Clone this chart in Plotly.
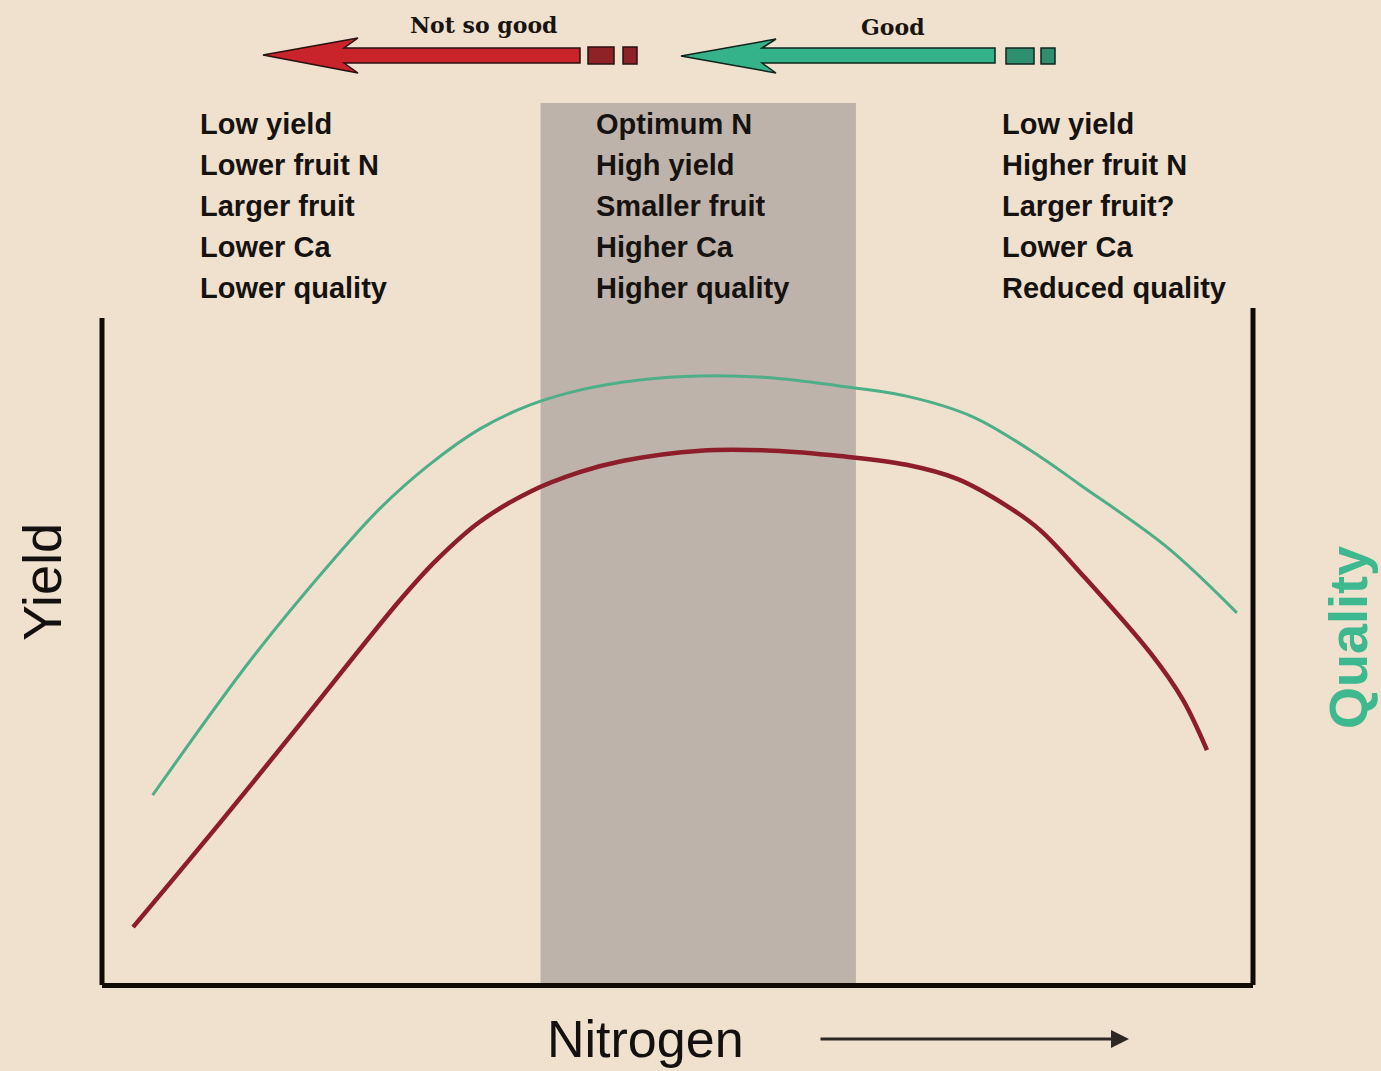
import plotly.graph_objects as go

# ---------------- data ----------------
yield_x = [2.7, 10.3, 17.5, 25.9, 29.1, 32.8, 37.2, 41.5, 45.3, 52.0, 58.3, 64.1, 69.9, 74.3, 78.6, 81.5, 85.2, 91.1, 93.9, 96.0]
yield_y = [8.3, 23.9, 39.1, 56.9, 62.9, 68.5, 73.0, 75.9, 77.6, 79.1, 79.1, 78.3, 77.0, 74.9, 70.9, 67.3, 60.6, 49.0, 42.1, 34.6]

quality_x = [4.4, 13.1, 20.1, 24.2, 28.5, 32.8, 37.2, 41.5, 46.7, 52.0, 58.3, 64.1, 69.9, 75.7, 81.5, 85.0, 92.5, 98.6]
quality_y = [27.9, 48.4, 62.9, 70.6, 77.1, 82.3, 85.9, 88.1, 89.6, 90.2, 89.9, 88.7, 87.2, 84.1, 78.2, 74.0, 64.8, 55.0]

optimum_range = [38.1, 65.5]

left_notes = ["Low yield", "Lower fruit N", "Larger fruit", "Lower Ca", "Lower quality"]
middle_notes = ["Optimum N", "High yield", "Smaller fruit", "Higher Ca", "Higher quality"]
right_notes = ["Low yield", "Higher fruit N", "Larger fruit?", "Lower Ca", "Reduced quality"]

# ---------------- layout helpers ----------------
W, H = 1381, 1071
L, R, T, B = 102, 1253, 310, 983


def px(xp):
    return (xp - L) / (R - L)


def py(yp):
    return (B - yp) / (B - T)


def path(points):
    return "M " + " L ".join(f"{px(a):.5f},{py(b):.5f}" for a, b in points) + " Z"


BG = "#EFE1CE"
RED_LINE = "#8E1D2B"
GREEN_LINE = "#4DAE88"

fig = go.Figure()

fig.add_trace(go.Scatter(x=quality_x, y=quality_y, mode="lines",
                         line=dict(color=GREEN_LINE, width=3, shape="spline", smoothing=1.0),
                         hoverinfo="skip", showlegend=False))
fig.add_trace(go.Scatter(x=yield_x, y=yield_y, mode="lines",
                         line=dict(color=RED_LINE, width=4.5, shape="spline", smoothing=1.0),
                         hoverinfo="skip", showlegend=False))

shapes = []
# optimum band
shapes.append(dict(type="rect", xref="x", yref="paper", x0=optimum_range[0], x1=optimum_range[1],
                   y0=0, y1=py(103), fillcolor="#BDB3AA", line=dict(width=0), layer="below"))
# vertical axis lines
shapes.append(dict(type="line", xref="paper", yref="paper", x0=px(102), x1=px(102), y0=py(985), y1=py(318),
                   line=dict(color="#120a05", width=5)))
shapes.append(dict(type="line", xref="paper", yref="paper", x0=px(1253), x1=px(1253), y0=py(985), y1=py(308),
                   line=dict(color="#120a05", width=5)))
# red arrow
shapes.append(dict(type="path", xref="paper", yref="paper",
                   path=path([(263, 55), (358, 38), (344, 48), (580, 48), (580, 63), (344, 63), (358, 73)]),
                   fillcolor="#C9232C", line=dict(color="#2a1010", width=1.5)))
shapes.append(dict(type="rect", xref="paper", yref="paper", x0=px(588), x1=px(614), y0=py(64), y1=py(47),
                   fillcolor="#8E2226", line=dict(color="#2a1010", width=1.5)))
shapes.append(dict(type="rect", xref="paper", yref="paper", x0=px(623), x1=px(637), y0=py(64), y1=py(47),
                   fillcolor="#8E2226", line=dict(color="#2a1010", width=1.5)))
# green arrow
shapes.append(dict(type="path", xref="paper", yref="paper",
                   path=path([(681, 56), (776, 39), (762, 48), (995, 48), (995, 63), (762, 63), (776, 73)]),
                   fillcolor="#34B38B", line=dict(color="#10241c", width=1.5)))
shapes.append(dict(type="rect", xref="paper", yref="paper", x0=px(1006), x1=px(1034), y0=py(64), y1=py(48),
                   fillcolor="#2F8E6E", line=dict(color="#10241c", width=1.5)))
shapes.append(dict(type="rect", xref="paper", yref="paper", x0=px(1041), x1=px(1055), y0=py(64), y1=py(48),
                   fillcolor="#2F8E6E", line=dict(color="#10241c", width=1.5)))

annotations = []
note_font = dict(family="Liberation Sans, Arial, sans-serif", size=29, color="#161210", weight=700)
for col_x, notes in ((198, left_notes), (594, middle_notes), (1000, right_notes)):
    for i, t in enumerate(notes):
        annotations.append(dict(text=t, xref="paper", yref="paper", x=px(col_x), y=py(124 + 41 * i),
                                xanchor="left", yanchor="middle", showarrow=False, font=note_font))

serif = dict(family="DejaVu Serif, Liberation Serif, serif", size=22, color="#1a1410", weight=700)
annotations.append(dict(text="Not so good", xref="paper", yref="paper", x=px(483), y=py(25),
                        xanchor="center", yanchor="middle", showarrow=False, font=serif))
annotations.append(dict(text="Good", xref="paper", yref="paper", x=px(893), y=py(27),
                        xanchor="center", yanchor="middle", showarrow=False, font=serif))

annotations.append(dict(text="Nitrogen", xref="paper", yref="paper", x=px(645), y=py(1039),
                        xanchor="center", yanchor="middle", showarrow=False,
                        font=dict(family="Liberation Sans, Arial, sans-serif", size=52, color="#141010")))
annotations.append(dict(text="", xref="paper", yref="paper", x=px(1129), y=py(1039),
                        ax=-310, ay=0, showarrow=True, arrowhead=2, arrowsize=1.2, arrowwidth=3,
                        arrowcolor="#2e2824"))
annotations.append(dict(text="Yield", xref="paper", yref="paper", x=px(42), y=py(582),
                        xanchor="center", yanchor="middle", showarrow=False, textangle=-90,
                        font=dict(family="Liberation Sans, Arial, sans-serif", size=54, color="#141010")))
annotations.append(dict(text="Quality", xref="paper", yref="paper", x=px(1348), y=py(638),
                        xanchor="center", yanchor="middle", showarrow=False, textangle=-90,
                        font=dict(family="Liberation Sans, Arial, sans-serif", size=54, color="#3DB88F",
                                  weight=700)))

fig.update_layout(
    width=W, height=H,
    margin=dict(l=L, r=W - R, t=T, b=H - B, pad=0),
    paper_bgcolor=BG, plot_bgcolor=BG,
    shapes=shapes, annotations=annotations,
    showlegend=False,
    xaxis=dict(range=[0, 100], showgrid=False, zeroline=False, showticklabels=False, ticks="",
               showline=True, linewidth=5, linecolor="#120a05", fixedrange=True),
    yaxis=dict(range=[0, 100], showgrid=False, zeroline=False, showticklabels=False, ticks="",
               showline=False, fixedrange=True),
)

fig.write_html("out.html", config={"displayModeBar": False},
               post_script="document.body.style.margin='0';")
